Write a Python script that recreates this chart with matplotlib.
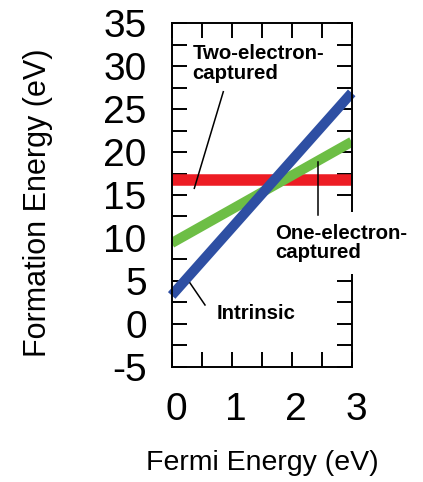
import matplotlib
matplotlib.use("Agg")
import matplotlib.pyplot as plt
from matplotlib.transforms import ScaledTranslation

# Data
fermi = [0, 3]
intrinsic = [3.3, 26.9]
one_electron = [9.4, 21.2]
two_electron = [16.7, 16.7]
xticks = [0, 1, 2, 3]
yticks = [-5, 0, 5, 10, 15, 20, 25, 30, 35]

plt.rcParams['font.family'] = ['Liberation Sans', 'DejaVu Sans']
plt.rcParams['axes.unicode_minus'] = False

fig = plt.figure(figsize=(4.23, 4.82), dpi=100)
ax = fig.add_axes([171.7/423, 1-366.7/482, 180/423, 343.4/482])

ax.plot(fermi, two_electron, color='#ED1C24', lw=8.3, solid_capstyle='butt', zorder=2)
ax.plot(fermi, one_electron, color='#6DBE45', lw=7.2, solid_capstyle='butt', zorder=2.1)
ax.plot(fermi, intrinsic, color='#2E4FA3', lw=7.2, solid_capstyle='butt', zorder=2.2, clip_on=False)

ax.set_xlim(0, 3)
ax.set_ylim(-5, 35)
ax.set_xticks(xticks)
ax.set_xticks([0.5, 1.5, 2.5], minor=True)
ax.set_yticks(yticks)
ax.set_yticks([-2.5 + 5*i for i in range(8)], minor=True)
ax.tick_params(which='both', direction='in', length=10.8, width=1.4,
               top=True, right=True, labelsize=28, pad=18)
for s in ax.spines.values():
    s.set_linewidth(1.4)
for lab in ax.get_xticklabels():
    lab.set_transform(lab.get_transform() + ScaledTranslation(3/72, 0, fig.dpi_scale_trans))

fig.text(262/423, 1-463/482, 'Fermi Energy (eV)', fontsize=20.5, ha='center', va='center')
fig.text(38/423, 1-203/482, 'Formation Energy (eV)', fontsize=22, ha='center', va='center', rotation=90)

# annotations
ax.plot([0.86, 0.377], [27.03, 15.78], color='black', lw=1.1, zorder=5)
ax.plot([2.44, 2.44], [18.85, 12.7], color='black', lw=1.1, zorder=5)
ax.plot([0.305, 0.555], [4.75, 2.19], color='black', lw=1.1, zorder=5)

ax.text(0.343, 30.3, 'Two-electron-\ncaptured', fontsize=14.7, fontweight='bold',
        ha='left', va='center', linespacing=1.05, zorder=4)
ax.text(1.72, 9.4, 'One-electron-\ncaptured', fontsize=14.7, fontweight='bold',
        ha='left', va='center', linespacing=1.05, zorder=4, clip_on=False,
        bbox=dict(boxstyle='square,pad=0.55', fc='white', ec='none'))
ax.text(0.75, 1.25, 'Intrinsic', fontsize=14.7, fontweight='bold',
        ha='left', va='center', zorder=4)

fig.savefig('out.png', dpi=100)
